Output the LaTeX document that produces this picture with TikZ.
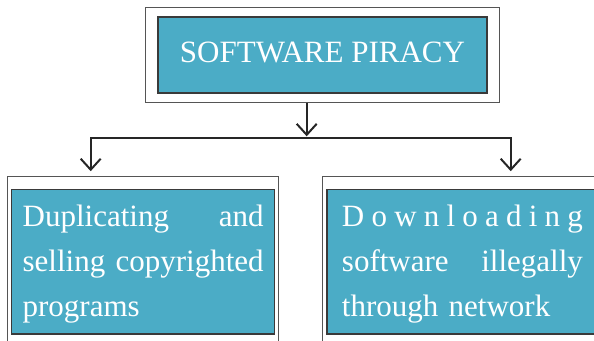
\documentclass[tikz,border=0pt]{standalone}
\usepackage{fontspec}
\setmainfont{Liberation Serif}
\usetikzlibrary{positioning, fit, arrows.meta}
\definecolor{cBox}{HTML}{4BACC6}
\definecolor{cEdge}{HTML}{3A3A3A}
\definecolor{cFrame}{HTML}{555555}

\begin{document}
\begin{tikzpicture}[x=1pt, y=-1pt,
    box/.style={draw=cEdge, line width=1.3pt, fill=cBox, text=white, inner sep=0pt,
      font=\fontsize{31}{45}\selectfont},
    leaf/.style={box, align=left, minimum height=144.6pt, execute at begin node=\rule{0pt}{27pt}},
    frame/.style={draw=cFrame, line width=1pt, inner xsep=3.5pt, inner ysep=12.7pt},
    link/.style={line width=2pt, draw=black!85, -{Straight Barb[length=11pt, width=20pt]}}]
    \useasboundingbox (0,0) rectangle (594,340);

    % Root
    \node[box, minimum width=329pt, minimum height=76pt, text depth=6.5pt] (piracy) at (322.5,55) {SOFTWARE PIRACY};
    \node[frame, inner xsep=11.5pt, inner ysep=8.5pt, fit=(piracy)] (piracyframe) {};

    % Two kinds
    \node[leaf, text width=241pt, inner xsep=11pt, anchor=north west] (dup) at (11,188.7)
        {Duplicating\hfill and\\\mbox{selling copyrighted}\\programs};
    \node[leaf, text width=241pt, inner xsep=15pt, right=51pt of dup.north east, anchor=north west] (dl)
        {D\hfill o\hfill w\hfill n\hfill l\hfill o\hfill a\hfill d\hfill i\hfill n\hfill g\\software\hfill illegally\\through network};
    \node[frame, fit=(dup)] (dupframe) {};
    \node[frame, fit=(dl)] (dlframe) {};

    % Branches
    \coordinate (split) at (306.7,138.3);
    \coordinate (lbus) at (90.7,138.3);
    \coordinate (rbus) at (510.7,138.3);
    \draw[link, shorten >=2pt] (piracyframe.south -| split) -- (split);
    \draw[link, shorten >=4.3pt] (split) -| (dupframe.north -| lbus);
    \draw[link, shorten >=4.3pt] (split) -| (dlframe.north -| rbus);
\end{tikzpicture}
\end{document}
